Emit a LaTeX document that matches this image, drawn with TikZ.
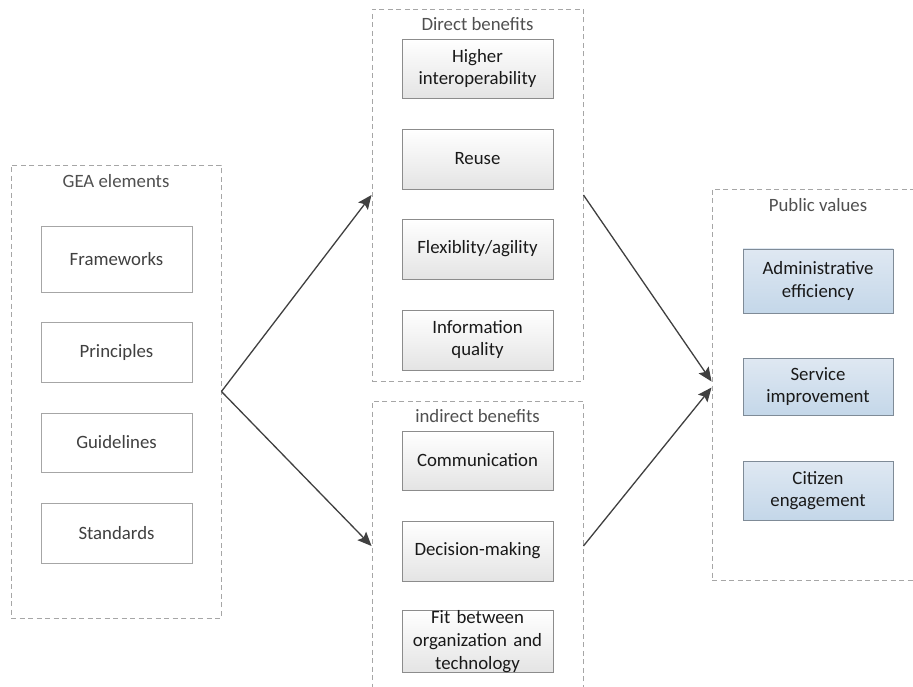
\documentclass[tikz,border=0pt]{standalone}
\usepackage{fontspec}
\setmainfont{Carlito}
\usetikzlibrary{arrows.meta,calc}
\definecolor{dashgray}{HTML}{A6A6A6}
\definecolor{boxline}{HTML}{A6A6A6}
\definecolor{boxline2}{HTML}{8C8C8C}
\definecolor{blueline}{HTML}{7F8B97}
\definecolor{bluetop}{HTML}{DFE8F2}
\definecolor{bluebot}{HTML}{C4D7E9}
\definecolor{graybot}{HTML}{E4E4E4}
\definecolor{txtgray}{HTML}{404040}
\definecolor{titlegray}{HTML}{505050}
\definecolor{arrowgray}{HTML}{404040}
\tikzset{
  container/.style={draw=dashgray, line width=0.9pt, dash pattern=on 5pt off 3.5pt, inner sep=0pt},
  grouptitle/.style={text=titlegray, inner sep=0pt, font=\fontsize{18.8}{22}\selectfont},
  geabox/.style={draw=boxline, line width=0.9pt, fill=white, minimum width=151pt, text=txtgray,
    align=center, inner sep=2pt, font=\fontsize{18.8}{22}\selectfont},
  benbox/.style={draw=boxline2, line width=0.9pt, top color=white, bottom color=graybot,
    minimum width=151pt, text width=147pt, text=black!90, align=center, inner sep=2pt,
    font=\fontsize{18.8}{22}\selectfont},
  valbox/.style={draw=blueline, line width=0.9pt, top color=bluetop, bottom color=bluebot,
    minimum width=150pt, text width=146pt, text=black!90, align=center, inner sep=2pt,
    font=\fontsize{18.8}{22.5}\selectfont},
  conn/.style={draw=arrowgray, line width=1.3pt,
    -{Stealth[length=14pt,width=12pt,inset=2.5pt]}}
}
\begin{document}
\begin{tikzpicture}[x=1pt,y=-1pt]
\clip (0,0) rectangle (913,687);
\fill[white] (0,0) rectangle (913,687);
% containers
\node[container, minimum width=210pt, minimum height=453pt] (gea) at (116,391.5) {};
\node[container, minimum width=211pt, minimum height=372pt] (direct) at (477.5,195) {};
\node[container, minimum width=211pt, minimum height=290pt] (indirect) at (477.5,546) {};
\node[container, minimum width=212pt, minimum height=391pt] (public) at (818,384.5) {};
% titles
\node[grouptitle] (geaT) at (116,181) {GEA elements};
\node[grouptitle] (directT) at (477.5,24) {Direct benefits};
\node[grouptitle] (indirectT) at (477.5,416) {indirect benefits};
\node[grouptitle] (publicT) at (818,205) {Public values};
% GEA boxes
\node[geabox, minimum height=66pt] (fw) at (116.5,259) {Frameworks};
\node[geabox, minimum height=60pt] (pr) at (116.5,352) {Principles};
\node[geabox, minimum height=59pt] (gl) at (116.5,442.5) {Guidelines};
\node[geabox, minimum height=60pt] (st) at (116.5,533) {Standards};
% benefit boxes
\node[benbox, minimum height=59pt] (hi) at (477.5,68.5) {Higher\\interoperability};
\node[benbox, minimum height=60pt] (ru) at (477.5,159) {Reuse};
\node[benbox, minimum height=60pt] (fl) at (477.5,249) {Flexiblity/agility};
\node[benbox, minimum height=60pt] (iq) at (477.5,340) {Information\\quality};
\node[benbox, minimum height=59pt] (co) at (477.5,460.5) {Communication};
\node[benbox, minimum height=60pt] (dm) at (477.5,551) {Decision-making};
\node[benbox, minimum height=61pt, inner sep=0pt, font=\fontsize{18.8}{23}\selectfont] (fit) at (477.5,641.5) {Fit between\\organization and\\technology};
% public value boxes
\node[valbox, minimum height=64pt] (ae) at (818,281) {Administrative\\efficiency};
\node[valbox, minimum height=57pt] (si) at (818,386.5) {Service\\improvement};
\node[valbox, minimum height=59pt] (ce) at (818,490.5) {Citizen\\engagement};
% connectors
\draw[conn] (gea.east) -- (direct.west);
\draw[conn] (gea.east) -- (indirect.west);
\draw[conn] (direct.east) -- ($(public.west)+(0,-3)$);
\draw[conn] (indirect.east) -- ($(public.west)+(0,3)$);
\end{tikzpicture}
\end{document}
